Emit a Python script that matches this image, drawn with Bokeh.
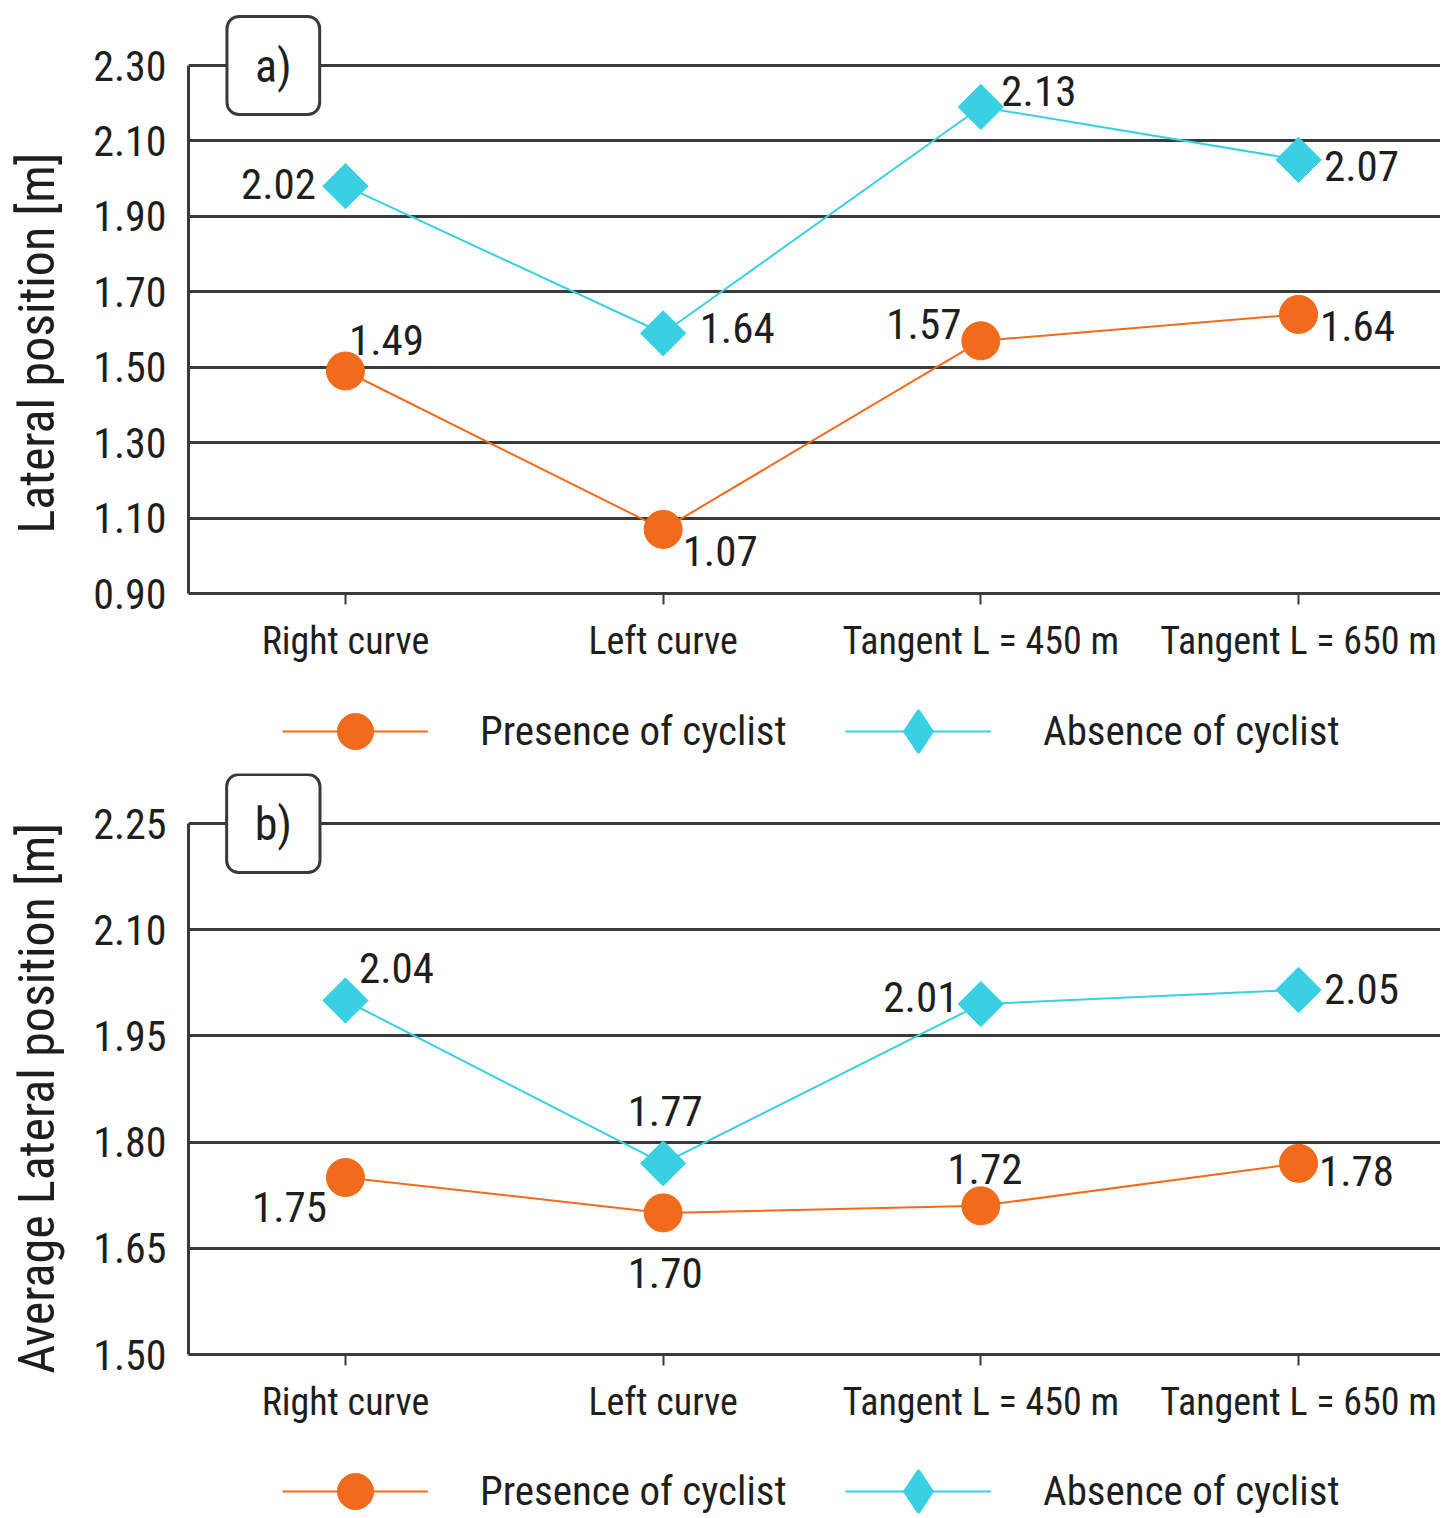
import math
from bokeh.plotting import figure
from bokeh.models import (Range1d, FixedTicker, NumeralTickFormatter, Legend, LegendItem,
                          Label, ColumnDataSource)
from bokeh.layouts import column
from bokeh.embed import file_html
from bokeh.resources import INLINE
from bokeh.core.properties import value

# ---------------- data ----------------
categories = ["Right curve", "Left curve", "Tangent L = 450 m", "Tangent L = 650 m"]

# panel a) lateral position [m]
a_presence = [1.49, 1.07, 1.57, 1.64]
a_presence_labels = ["1.49", "1.07", "1.57", "1.64"]
a_absence = [1.98, 1.59, 2.19, 2.05]
a_absence_labels = ["2.02", "1.64", "2.13", "2.07"]
a_yticks = [0.90, 1.10, 1.30, 1.50, 1.70, 1.90, 2.10, 2.30]

# panel b) average lateral position [m]
b_presence = [1.75, 1.70, 1.71, 1.77]
b_presence_labels = ["1.75", "1.70", "1.72", "1.78"]
b_absence = [2.00, 1.77, 1.995, 2.015]
b_absence_labels = ["2.04", "1.77", "2.01", "2.05"]
b_yticks = [1.50, 1.65, 1.80, 1.95, 2.10, 2.25]

series_names = ["Presence of cyclist", "Absence of cyclist"]

# ---------------- label placement (screen px offsets) ----------------
a_presence_off = [(41, -31), (57, 22), (-57, -17), (59, 12)]
a_absence_off = [(-67, -2), (74, -5), (58, -16), (63, 6)]
b_presence_off = [(-56, 29), (2, 60), (4, -37), (58, 8)]
b_absence_off = [(51, -33), (2, -52), (-60, -7), (63, -1)]

FONT = "Roboto Condensed"
ORANGE = "#F26A1B"
CYAN = "#38D0E2"
GRID = "#3a3a3a"
TXT = "#1e1e1e"
FRAME_W = 1252
BORDER_L = 188
NBSP = "\u00a0"


def make_panel(tag, ylabel, label_pad, yticks, pres, pres_lab, pres_off, absn, absn_lab,
               absn_off, frame_h, tick_span_px, border_top, border_bottom):
    xs = list(range(len(categories)))
    y_end = yticks[0] + frame_h * (yticks[-1] - yticks[0]) / tick_span_px
    p = figure(frame_width=FRAME_W, frame_height=frame_h, output_backend="svg",
               toolbar_location=None,
               x_range=Range1d(-0.494, -0.494 + FRAME_W / 317.7),
               y_range=Range1d(yticks[0], y_end),
               min_border_left=BORDER_L, min_border_right=0, min_border_top=border_top,
               min_border_bottom=border_bottom)
    p.outline_line_color = None
    p.xgrid.grid_line_color = None
    p.ygrid.grid_line_color = GRID
    p.ygrid.grid_line_width = 3
    p.ygrid.ticker = FixedTicker(ticks=yticks)

    p.yaxis.ticker = FixedTicker(ticks=yticks)
    p.yaxis.bounds = (yticks[0], yticks[-1])
    p.yaxis.formatter = NumeralTickFormatter(format="0.00")
    p.yaxis.major_tick_out = 0
    p.yaxis.major_tick_in = 0
    p.yaxis.minor_tick_out = 0
    p.yaxis.minor_tick_in = 0
    p.yaxis.axis_line_color = GRID
    p.yaxis.axis_line_width = 3
    p.yaxis.major_label_text_font = FONT
    p.yaxis.major_label_text_font_size = "42px"
    p.yaxis.major_label_text_color = TXT
    p.yaxis.major_label_standoff = 22
    # trailing no-break spaces keep the label centred on the tick span, not the taller frame
    p.yaxis.axis_label = ylabel + NBSP * label_pad
    p.yaxis.axis_label_text_font = FONT
    p.yaxis.axis_label_text_font_size = "50px"
    p.yaxis.axis_label_text_font_style = "normal"
    p.yaxis.axis_label_text_color = TXT
    p.yaxis.axis_label_standoff = 24

    p.xaxis.ticker = FixedTicker(ticks=xs)
    p.xaxis.major_label_overrides = {i: c for i, c in enumerate(categories)}
    p.xaxis.major_tick_out = 11
    p.xaxis.major_tick_in = 0
    p.xaxis.major_tick_line_width = 2
    p.xaxis.major_tick_line_color = GRID
    p.xaxis.minor_tick_out = 0
    p.xaxis.axis_line_color = GRID
    p.xaxis.axis_line_width = 3
    p.xaxis.major_label_text_font = FONT
    p.xaxis.major_label_text_font_size = "38px"
    p.xaxis.major_label_text_color = TXT
    p.xaxis.major_label_standoff = 14

    src_p = ColumnDataSource(dict(x=xs, y=pres, t=pres_lab,
                                  dx=[o[0] for o in pres_off], dy=[o[1] for o in pres_off]))
    src_a = ColumnDataSource(dict(x=xs, y=absn, t=absn_lab,
                                  dx=[o[0] for o in absn_off], dy=[o[1] for o in absn_off]))

    p.line("x", "y", source=src_p, line_color=ORANGE, line_width=2)
    p.line("x", "y", source=src_a, line_color=CYAN, line_width=2)
    p.scatter("x", "y", source=src_p, marker="circle", size=38,
              fill_color=ORANGE, line_color=ORANGE)
    p.scatter("x", "y", source=src_a, marker="square", size=32, angle=math.pi / 4,
              fill_color=CYAN, line_color=CYAN)

    for src in (src_p, src_a):
        p.text("x", "y", text="t", source=src, x_offset="dx", y_offset="dy",
               text_align="center", text_baseline="middle",
               text_font=value(FONT), text_font_size="43px", text_color=TXT)

    p.add_layout(Label(x=-0.227, y=yticks[-1], text=tag, text_align="center",
                       text_baseline="middle", text_font=FONT, text_font_size="46px",
                       text_color=TXT, background_fill_color="white",
                       border_line_color=GRID, border_line_width=3, border_radius=12,
                       padding=(28, 22)))
    return p


def make_legend(height, legend_y, pres, absn):
    # legend-only strip: the series are drawn far outside its (hidden) ranges,
    # so only their legend swatches show
    xs = list(range(len(categories)))
    lf = figure(width=BORDER_L + FRAME_W, height=height, output_backend="svg",
                toolbar_location=None, x_axis_location=None, y_axis_location=None,
                x_range=Range1d(0, 1), y_range=Range1d(-3, -2), min_border=0)
    lf.outline_line_color = None
    lf.grid.visible = False
    l1 = lf.line(xs, pres, line_color=ORANGE, line_width=2)
    s1 = lf.scatter(xs, pres, marker="circle", fill_color=ORANGE, line_color=ORANGE)
    l2 = lf.line(xs, absn, line_color=CYAN, line_width=2)
    s2 = lf.scatter(xs, absn, marker="diamond", fill_color=CYAN, line_color=CYAN,
                    line_width=3)
    common = dict(orientation="horizontal", glyph_width=146, label_standoff=52,
                  padding=0, margin=0, border_line_color=None, background_fill_alpha=0,
                  label_text_font=FONT, label_text_font_size="41px", label_text_color=TXT)
    g1, g2 = 90, 104
    lg1 = Legend(items=[LegendItem(label=series_names[0], renderers=[l1, s1])],
                 location=(94, legend_y), glyph_height=g1, **common)
    lg2 = Legend(items=[LegendItem(label=series_names[1], renderers=[l2, s2])],
                 location=(657, legend_y - (g2 - g1) / 2), glyph_height=g2, **common)
    lf.add_layout(lg1, "center")
    lf.add_layout(lg2, "center")
    return lf


pa = make_panel("a)", "Lateral position [m]", 7, a_yticks, a_presence, a_presence_labels,
                a_presence_off, a_absence, a_absence_labels, a_absence_off,
                581, 528, 12, 82)
la = make_legend(80, -21, a_presence, a_absence)
pb = make_panel("b)", "Average Lateral position [m]", 6, b_yticks, b_presence,
                b_presence_labels, b_presence_off, b_absence, b_absence_labels, b_absence_off,
                581, 531, 18, 82)
lb = make_legend(80, -20, b_presence, b_absence)

layout = column(pa, la, pb, lb, spacing=0)
open("out.html", "w").write(file_html(layout, INLINE))
